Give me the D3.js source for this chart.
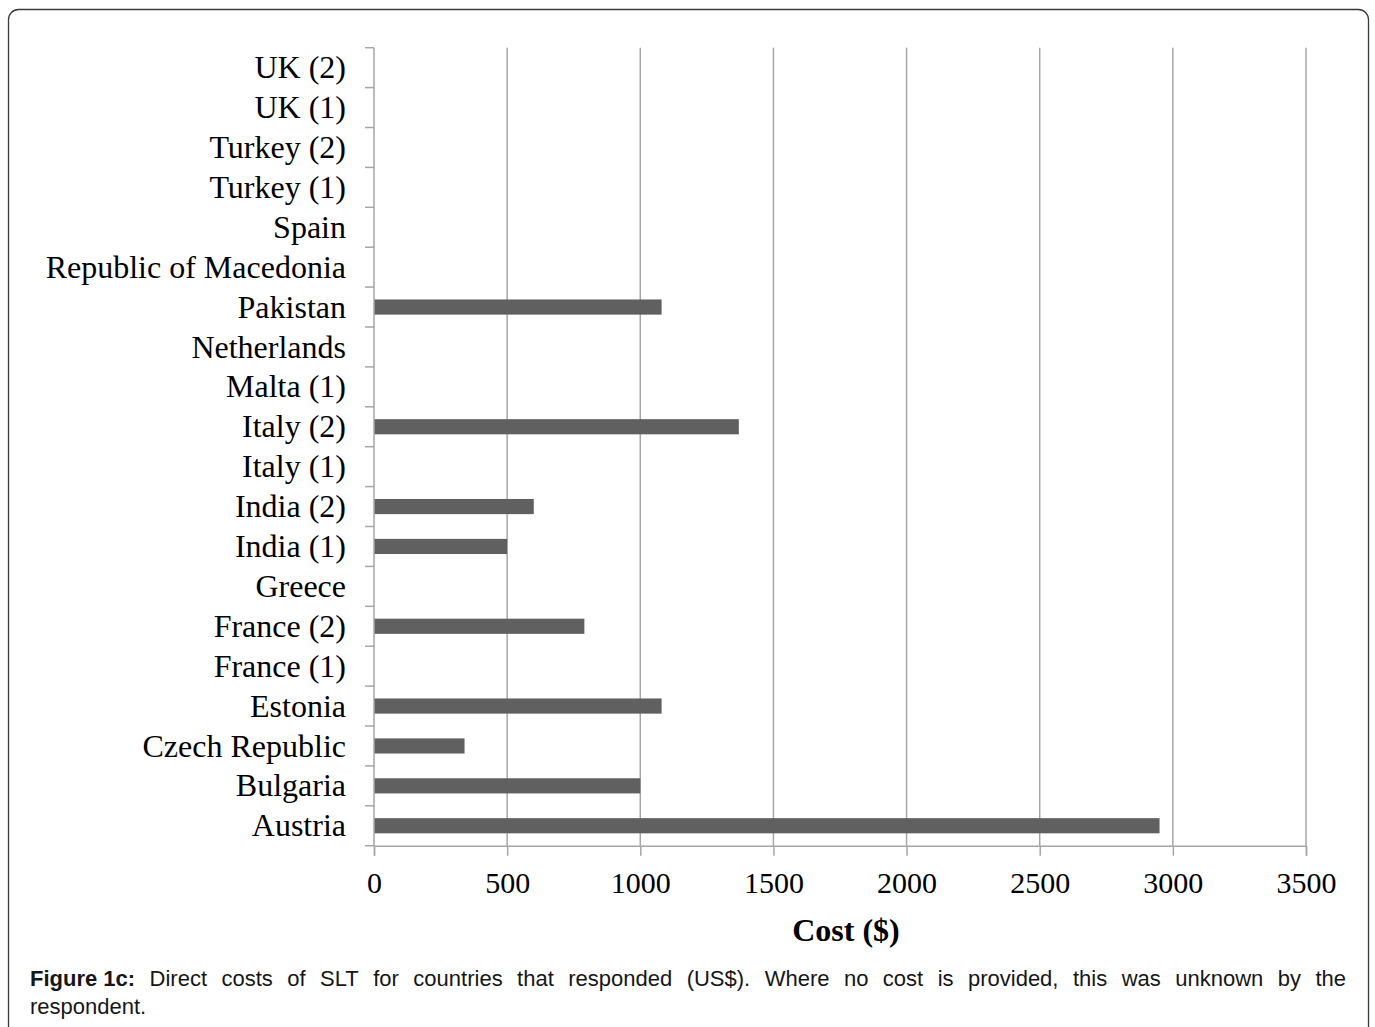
<!DOCTYPE html>
<html>
<head>
<meta charset="utf-8">
<script src="https://cdn.jsdelivr.net/npm/d3@7"></script>
<style>
  html, body { margin: 0; padding: 0; background: #fff; }
  svg { display: block; }
</style>
</head>
<body>
<svg id="chart" width="1375" height="1027"></svg>
<script>
// Categories listed bottom to top as they appear on the axis
const countries = [
  "Austria", "Bulgaria", "Czech Republic", "Estonia", "France (1)",
  "France (2)", "Greece", "India (1)", "India (2)", "Italy (1)",
  "Italy (2)", "Malta (1)", "Netherlands", "Pakistan", "Republic of Macedonia",
  "Spain", "Turkey (1)", "Turkey (2)", "UK (1)", "UK (2)"
];
// Direct cost in US$; null where the respondent did not know the cost
const costs = [
  2950, 1000, 340, 1080, null,
  790, null, 500, 600, null,
  1370, null, null, 1080, null,
  null, null, null, null, null
];
const costTicks = [0, 500, 1000, 1500, 2000, 2500, 3000, 3500];
const axisTitle = "Cost ($)";
const captionLead = "Figure 1c:";
// Caption body split into its two printed lines
const captionLine1 = "Direct costs of SLT for countries that responded (US$). Where no cost is provided, this was unknown by the";
const captionLine2 = "respondent.";

const svg = d3.select("#chart");

// Outer frame with rounded corners (bottom edge runs past the page)
svg.append("rect")
  .attr("x", 8.5).attr("y", 9.5)
  .attr("width", 1360).attr("height", 1040)
  .attr("rx", 10).attr("ry", 10)
  .attr("fill", "none").attr("stroke", "#3a3a3a").attr("stroke-width", 1.3);

const plot = { left: 374, right: 1306, top: 47.7, bottom: 845.7 };

const x = d3.scaleLinear().domain([0, 3500]).range([plot.left, plot.right]);
// Reverse order so the first category sits at the bottom
const y = d3.scaleBand()
  .domain(countries.slice().reverse())
  .range([plot.top, plot.bottom])
  .paddingInner(0.62).paddingOuter(0.31);

const gridColor = "#a6a6a6";
const serif = "'Liberation Serif', 'Times New Roman', serif";

// Vertical gridlines
svg.append("g")
  .selectAll("line")
  .data(costTicks.filter(d => d > 0))
  .join("line")
  .attr("x1", d => x(d)).attr("x2", d => x(d))
  .attr("y1", plot.top).attr("y2", plot.bottom)
  .attr("stroke", gridColor).attr("stroke-width", 1.5);

// Bars
svg.append("g")
  .selectAll("rect")
  .data(countries.map((c, i) => ({ c, v: costs[i] })).filter(d => d.v != null))
  .join("rect")
  .attr("x", x(0))
  .attr("y", d => y(d.c))
  .attr("width", d => x(d.v) - x(0))
  .attr("height", y.bandwidth())
  .attr("fill", "#606060");

// Category axis: ticks sit on band boundaries
const yAxis = svg.append("g");
const boundaries = d3.range(countries.length + 1).map(i => plot.top + i * y.step());
yAxis.selectAll("line.tick")
  .data(boundaries)
  .join("line")
  .attr("class", "tick")
  .attr("x1", plot.left - 9).attr("x2", plot.left)
  .attr("y1", d => d).attr("y2", d => d)
  .attr("stroke", gridColor).attr("stroke-width", 1.5);
yAxis.append("line")
  .attr("x1", plot.left).attr("x2", plot.left)
  .attr("y1", plot.top).attr("y2", plot.bottom)
  .attr("stroke", gridColor).attr("stroke-width", 1.5);
yAxis.selectAll("text")
  .data(countries)
  .join("text")
  .attr("x", plot.left - 28)
  .attr("y", d => y(d) + y.bandwidth() / 2)
  .attr("dy", "0.33em")
  .attr("text-anchor", "end")
  .attr("font-family", serif)
  .attr("font-size", 32)
  .attr("fill", "#000")
  .text(d => d);

// Value axis along the bottom
const xAxis = d3.axisBottom(x)
  .tickValues(costTicks)
  .tickSize(10)
  .tickPadding(16)
  .tickFormat(d3.format("d"));
const gx = svg.append("g")
  .attr("transform", `translate(0,${plot.bottom})`)
  .call(xAxis);
gx.select(".domain").attr("stroke", gridColor).attr("stroke-width", 1.5);
gx.selectAll(".tick line").attr("stroke", gridColor).attr("stroke-width", 1.5);
gx.selectAll(".tick text")
  .attr("font-family", serif)
  .attr("font-size", 30)
  .attr("fill", "#000");

// Axis title
svg.append("text")
  .attr("x", (plot.left + plot.right) / 2 + 6)
  .attr("y", 941)
  .attr("text-anchor", "middle")
  .attr("font-family", serif)
  .attr("font-weight", "bold")
  .attr("font-size", 32)
  .attr("fill", "#000")
  .text(axisTitle);

// Caption: first line justified across the frame, second line left aligned
const capFont = "'Liberation Sans', Arial, sans-serif";
const capSize = 22;
const capLeft = 30, capRight = 1346;
const line1 = [{ t: captionLead, bold: true }]
  .concat(captionLine1.split(" ").map(t => ({ t, bold: false })));
const cap = svg.append("g");
const measure = svg.append("text")
  .attr("font-family", capFont).attr("font-size", capSize)
  .attr("visibility", "hidden");
line1.forEach(w => {
  measure.attr("font-weight", w.bold ? "bold" : "normal").text(w.t);
  w.width = measure.node().getComputedTextLength();
});
measure.remove();
const totalW1 = d3.sum(line1, w => w.width);
const gap = (capRight - capLeft - totalW1) / (line1.length - 1);
let cx = capLeft;
line1.forEach(w => {
  cap.append("text")
    .attr("x", cx).attr("y", 986)
    .attr("font-family", capFont).attr("font-size", capSize)
    .attr("font-weight", w.bold ? "bold" : "normal")
    .attr("fill", "#161616")
    .text(w.t);
  cx += w.width + gap;
});
cap.append("text")
  .attr("x", capLeft).attr("y", 1014)
  .attr("font-family", capFont).attr("font-size", capSize)
  .attr("fill", "#161616")
  .text(captionLine2);
</script>
</body>
</html>
